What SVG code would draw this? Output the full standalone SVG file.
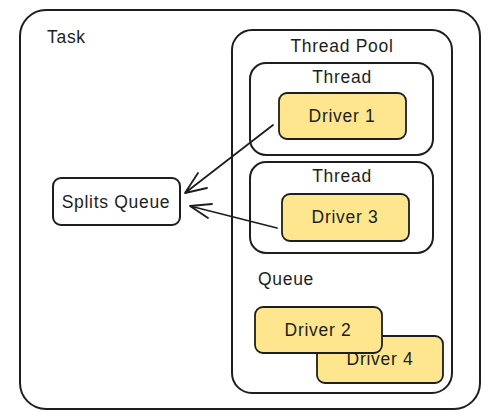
<svg xmlns="http://www.w3.org/2000/svg" width="500" height="420" viewBox="0 0 500 420">
<style>
.box{fill:#ffffff;stroke:#1e1e1e;stroke-width:2}
.drv{fill:#fde68e;stroke:#1e1e1e;stroke-width:1.8}
.t{font-family:"Liberation Sans","DejaVu Sans",sans-serif;font-size:17.5px;letter-spacing:0.7px;fill:#1e1e1e}
.c{text-anchor:middle}
.conn{fill:none;stroke:#1e1e1e;stroke-width:1.8;stroke-linecap:round;stroke-linejoin:round}
</style>
<rect width="500" height="420" fill="#ffffff"/>
<g id="task">
<rect class="box" x="20" y="10" width="460" height="399" rx="26"/>
<text class="t" x="47" y="43">Task</text>
</g>
<g id="thread-pool">
<rect class="box" x="232" y="30" width="220" height="363" rx="20"/>
<text class="t c" x="342" y="52">Thread Pool</text>
</g>
<g id="thread-1">
<rect class="box" x="250" y="63" width="183" height="92" rx="16"/>
<text class="t c" x="342" y="83">Thread</text>
</g>
<g id="driver-1">
<rect class="drv" x="279" y="93" width="127" height="46" rx="8"/>
<text class="t c" x="342" y="122">Driver 1</text>
</g>
<g id="thread-2">
<rect class="box" x="250" y="162" width="183" height="91" rx="16"/>
<text class="t c" x="342" y="182">Thread</text>
</g>
<g id="driver-3">
<rect class="drv" x="282" y="194" width="127" height="47" rx="8"/>
<text class="t c" x="345" y="223">Driver 3</text>
</g>
<g id="queue-label">
<text class="t" x="258" y="285">Queue</text>
</g>
<g id="driver-4">
<rect class="drv" x="317" y="336" width="126" height="47" rx="8"/>
<text class="t c" x="380" y="365">Driver 4</text>
</g>
<g id="driver-2">
<rect class="drv" x="255" y="307" width="127" height="46" rx="8"/>
<text class="t c" x="318" y="336">Driver 2</text>
</g>
<g id="splits-queue">
<rect class="box" x="53" y="178" width="127" height="47" rx="8"/>
<text class="t c" x="116" y="208">Splits Queue</text>
</g>
<g id="connectors">
<path class="conn" d="M273,125 L185,193 M198,173 L185,193 L207,188"/>
<path class="conn" d="M277,228 L190,206 M212,204 L190,206 L208,218"/>
</g>
</svg>
